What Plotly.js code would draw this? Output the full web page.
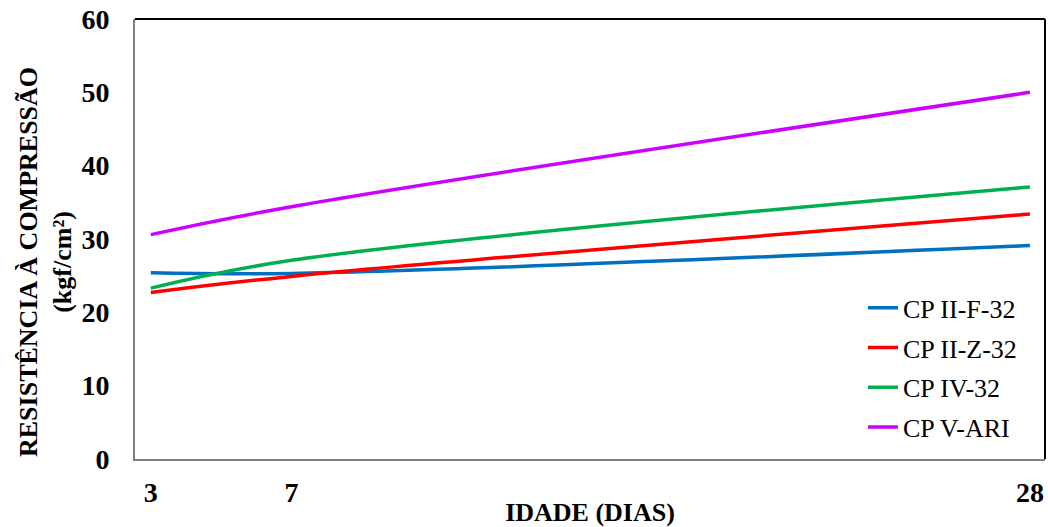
<!DOCTYPE html>
<html>
<head>
<meta charset="utf-8">
<script src="https://cdn.plot.ly/plotly-3.0.1.min.js"></script>
<style>html,body{margin:0;padding:0;background:#fff;}#chart{width:1048px;height:527px;}</style>
</head>
<body>
<div id="chart"></div>
<script>
const idade = [3, 7, 28];
const xTickLabels = ['3', '7', '28'];
const cpIIF32 = [25.4, 25.3, 29.1];
const cpIIZ32 = [22.7, 24.9, 33.4];
const cpIV32 = [23.3, 27.1, 37.1];
const cpVARI = [30.6, 34.4, 50.0];
const seriesNames = ['CP II-F-32', 'CP II-Z-32', 'CP IV-32', 'CP V-ARI'];
const seriesColors = ['#0070C0', '#FF0000', '#00B050', '#CC00FF'];
const seriesValues = [cpIIF32, cpIIZ32, cpIV32, cpVARI];

const traces = seriesValues.map((v, i) => ({
  x: idade, y: v, type: 'scatter', mode: 'lines', name: seriesNames[i],
  legendgroup: 'g' + i,
  line: {color: seriesColors[i], width: 3.5, shape: 'spline', smoothing: 1}
}));

const serif = '"Liberation Serif", "Times New Roman", serif';
const layout = {
  width: 1048, height: 527,
  margin: {l: 135, r: 3, t: 19, b: 68},
  paper_bgcolor: '#fff', plot_bgcolor: '#fff',
  showlegend: true,
  legend: {x: 0.8, y: 0.397, xanchor: 'left', yanchor: 'top', bgcolor: 'rgba(0,0,0,0)',
    font: {family: serif, size: 26, color: '#000'}, tracegroupgap: 3},
  xaxis: {
    range: [2.55, 28.43], tickmode: 'array', tickvals: idade, ticktext: xTickLabels,
    showgrid: false, zeroline: false, showline: true, linecolor: '#7f7f7f', linewidth: 2,
    ticks: '', ticklabelstandoff: 7,
    tickfont: {family: serif, size: 28, color: '#000', weight: 'bold'},
    title: {text: '<b>IDADE (DIAS)</b>', font: {family: serif, size: 26, color: '#000'}, standoff: 5}
  },
  yaxis: {
    range: [0, 60], dtick: 10, showgrid: false, zeroline: false,
    showline: true, linecolor: '#7f7f7f', linewidth: 2,
    ticks: '', ticklabelstandoff: 18,
    tickfont: {family: serif, size: 28, color: '#000', weight: 'bold'}
  },
  annotations: [
    {text: '<b>RESISTÊNCIA À COMPRESSÃO<br>(kgf/cm²)</b>', textangle: -90, showarrow: false,
     xref: 'paper', yref: 'paper', x: -0.0989, y: 0.4477, xanchor: 'center', yanchor: 'middle',
     font: {family: serif, size: 26, color: '#000'}}
  ],
  shapes: [
    {type: 'line', xref: 'paper', yref: 'paper', x0: 0, x1: 1, y0: 1, y1: 1, line: {color: '#000', width: 2}},
    {type: 'line', xref: 'paper', yref: 'paper', x0: 1, x1: 1, y0: 0, y1: 1, line: {color: '#000', width: 2}}
  ]
};
Plotly.newPlot('chart', traces, layout, {displayModeBar: false, staticPlot: true});
</script>
</body>
</html>
